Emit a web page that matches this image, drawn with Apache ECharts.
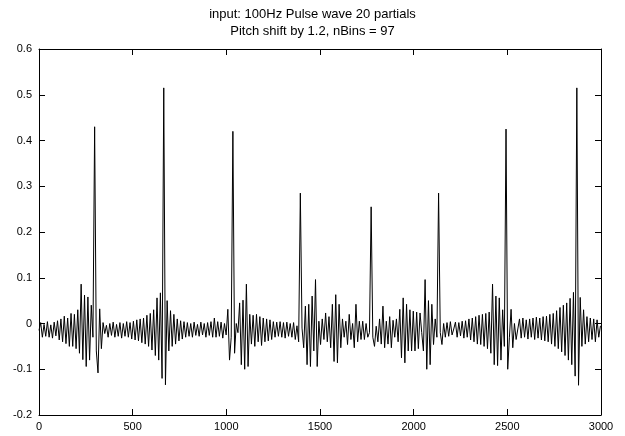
<!DOCTYPE html>
<html><head><meta charset="utf-8">
<script src="https://cdn.jsdelivr.net/npm/echarts@6/dist/echarts.min.js"></script>
<style>html,body{margin:0;padding:0;background:#fff}#c{width:625px;height:436px}</style>
</head><body><div id="c"></div>
<script>
// ---- text / ticks ----
const titleLines = ['input: 100Hz Pulse wave 20 partials', 'Pitch shift by 1.2, nBins = 97'];
const xTicks = [0, 500, 1000, 1500, 2000, 2500, 3000];
const xTickLabels = ['0', '500', '1000', '1500', '2000', '2500', '3000'];
const yTicks = [-0.2, -0.1, 0, 0.1, 0.2, 0.3, 0.4, 0.5, 0.6];
const yTickLabels = ['-0.2', '-0.1', '0', '0.1', '0.2', '0.3', '0.4', '0.5', '0.6'];

// ---- waveform, every 9 samples ----
const sampleStep = 9;
const wave0 = [-0.015, 0.002, -0.03, -0.002, -0.028, 0.004, -0.03, -0.003, -0.032, 0.003,
  -0.027, 0.006, -0.036, 0.01, -0.04, 0.016, -0.044, 0.012, -0.05, 0.022,
  -0.05, 0.02, -0.055, 0.03, -0.065, 0.086, -0.079, 0.062, -0.094, 0.058,
  -0.08, 0.04, -0.03, 0.43];
const wave1 = [-0.06, -0.108, 0.032, -0.055, 0.002, -0.022, -0.004, -0.03, 0.0, -0.026,
  0.003, -0.03, -0.002, -0.028, 0.002, -0.032, 0.0, -0.028, 0.004, -0.03,
  0.002, -0.034, 0.005, -0.036, 0.008, -0.038, 0.01, -0.042, 0.012, -0.045,
  0.018, -0.05, 0.022, -0.058, 0.03, -0.07, 0.056, -0.08, 0.067, -0.12,
  0.515];
const wave2 = [-0.134, 0.05, -0.06, 0.028, -0.05, 0.02, -0.045, 0.01, -0.038, 0.006,
  -0.034, 0.004, -0.03, 0.002, -0.028, 0.0, -0.03, 0.003, -0.026, -0.002,
  -0.028, 0.003, -0.025, 0.0, -0.03, 0.002, -0.026, 0.004, -0.03, 0.012,
  -0.03, 0.004, -0.028, 0.003, -0.032, 0.0, -0.025, 0.031, -0.08, -0.03,
  0.42];
const wave3 = [-0.065, 0.0, -0.02, 0.045, -0.09, 0.051, -0.1, 0.086, -0.094, 0.02,
  -0.045, 0.018, -0.05, 0.02, -0.04, 0.015, -0.048, 0.012, -0.04, 0.01,
  -0.038, 0.008, -0.035, 0.004, -0.03, 0.003, -0.028, 0.004, -0.03, 0.002,
  -0.032, 0.003, -0.028, 0.0, -0.03, 0.002, -0.035, -0.005, -0.04, 0.285];
const wave4 = [-0.01, -0.053, 0.038, -0.09, 0.042, -0.094, 0.06, -0.06, 0.096, -0.094,
  0.005, -0.046, 0.01, -0.035, 0.023, -0.04, 0.015, -0.053, 0.042, -0.083,
  0.063, -0.086, 0.042, -0.053, 0.01, -0.03, 0.005, -0.046, 0.02, -0.035,
  0.0, -0.053, 0.042, -0.04, 0.005, -0.035, 0.005, -0.035, 0.0, -0.03,
  -0.02, 0.255];
const wave5 = [-0.03, -0.05, -0.006, -0.04, 0.01, -0.045, 0.038, -0.053, 0.005, -0.045,
  0.015, -0.053, 0.007, -0.03, 0.01, -0.04, 0.031, -0.075, 0.056, -0.086,
  0.042, -0.06, 0.03, -0.06, 0.027, -0.06, 0.025, -0.055, 0.023, -0.02,
  -0.06, 0.096, -0.1, 0.05, -0.09, 0.042, -0.046, 0.01, -0.03, 0.285];
const wave6 = [-0.02, -0.046, 0.0, -0.03, 0.002, -0.028, 0.004, -0.025, -0.012, 0.003,
  -0.03, 0.002, -0.027, 0.005, -0.032, 0.006, -0.03, 0.01, -0.036, 0.012,
  -0.04, 0.015, -0.045, 0.018, -0.046, 0.02, -0.05, 0.022, -0.055, 0.025,
  -0.065, 0.086, -0.09, 0.06, -0.092, 0.056, -0.08, 0.03, -0.05, 0.425];
const wave7 = [-0.1, -0.03, 0.031, -0.053, 0.0, -0.035, -0.012, 0.01, -0.032, 0.012,
  -0.03, 0.008, -0.034, 0.01, -0.03, 0.012, -0.035, 0.014, -0.032, 0.012,
  -0.036, 0.015, -0.038, 0.016, -0.04, 0.02, -0.045, 0.022, -0.05, 0.028,
  -0.055, 0.035, -0.062, 0.04, -0.07, 0.045, -0.08, 0.055, -0.09, 0.068,
  -0.115, 0.515];
const wave8 = [-0.135, 0.057, -0.05, 0.03, -0.045, 0.015, -0.04, 0.012, -0.035, 0.01,
  -0.04, 0.008, -0.03, -0.005];

const wave = [].concat(wave0, wave1, wave2, wave3, wave4, wave5, wave6, wave7, wave8);
const seriesData = wave.map((v, i) => [i * sampleStep, v]);

const FONT = '"Liberation Sans", Arial, Helvetica, sans-serif';
const black = '#000';

function pick(ticks, labels, v) {
  for (let k = 0; k < ticks.length; k++) if (Math.abs(ticks[k] - v) < 1e-9) return labels[k];
  return '';
}
function xAxisDef(pos, showLabels) {
  return {
    type: 'value', position: pos, min: xTicks[0], max: xTicks[xTicks.length - 1],
    interval: xTicks[1] - xTicks[0],
    axisLine: { show: true, onZero: false, lineStyle: { color: black, width: 1 } },
    axisTick: { show: true, inside: true, length: 6, lineStyle: { color: black, width: 1 } },
    axisLabel: { show: showLabels, color: black, fontSize: 11, fontFamily: FONT, margin: 6,
      formatter: v => pick(xTicks, xTickLabels, v) },
    splitLine: { show: false }
  };
}
function yAxisDef(pos, showLabels) {
  return {
    type: 'value', position: pos, min: yTicks[0], max: yTicks[yTicks.length - 1],
    interval: 0.1,
    axisLine: { show: true, onZero: false, lineStyle: { color: black, width: 1 } },
    axisTick: { show: true, inside: true, length: 6, lineStyle: { color: black, width: 1 } },
    axisLabel: { show: showLabels, color: black, fontSize: 11, fontFamily: FONT, margin: 7,
      formatter: v => pick(yTicks, yTickLabels, v) },
    splitLine: { show: false }
  };
}

const chart = echarts.init(document.getElementById('c'), null, { renderer: 'canvas' });
chart.setOption({
  animation: false,
  backgroundColor: '#fff',
  title: {
    text: titleLines.join('\n'), left: 'center', top: 1,
    textStyle: { fontFamily: FONT, fontSize: 13, fontWeight: 'normal', color: black, lineHeight: 17 }
  },
  grid: { left: 39, right: 24, top: 49, bottom: 21, containLabel: false },
  xAxis: [xAxisDef('bottom', true), xAxisDef('top', false)],
  yAxis: [yAxisDef('left', true), yAxisDef('right', false)],
  series: [{
    type: 'line', xAxisIndex: 0, yAxisIndex: 0, data: seriesData,
    showSymbol: false, symbol: 'none', silent: true,
    lineStyle: { color: black, width: 1 }
  }]
});
</script></body></html>
